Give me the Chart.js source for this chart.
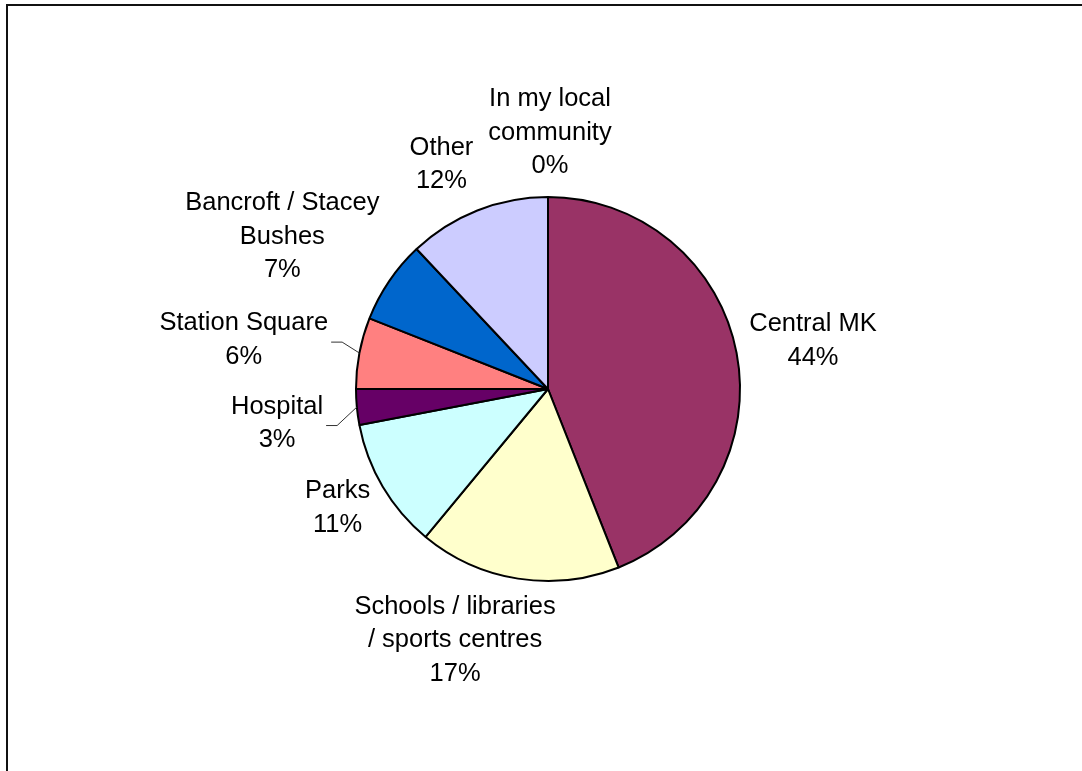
<!DOCTYPE html>
<html>
<head>
<meta charset="utf-8">
<title>Locations</title>
<script src="https://cdn.jsdelivr.net/npm/chart.js@4/dist/chart.umd.min.js"></script>
<style>
  html, body { margin: 0; padding: 0; background: #fff; }
  canvas { display: block; }
</style>
</head>
<body>
<canvas id="myChart" width="1082" height="771"></canvas>
<script>
// categories (multi-line labels as they wrap) and their shares
const categories = [
    'Central MK',
    ['Schools / libraries', '/ sports centres'],
    'Parks',
    'Hospital',
    'Station Square',
    ['Bancroft / Stacey', 'Bushes'],
    'Other',
    ['In my local', 'community']
];
const shares = [44, 17, 11, 3, 6, 7, 12, 0];
const sliceColors = ['#993366', '#FFFFCC', '#CCFFFF', '#660066', '#FF8080', '#0066CC', '#CCCCFF', '#000080'];

// label placement tweaks, px (index follows categories)
const labelNudge = [[0, -3], [-45, -2], [-5, -3], [-20, 12], [-19, -4], [-15, -8], [-19, -2], [2, 0]];
const leaderLines = [3, 4];

const LABEL_FONT = '25.5px "Liberation Sans", Arial, sans-serif';
const LINE_H = 33.5;
const LABEL_GAP = 14;

const frame = {
    id: 'frame',
    beforeDraw(chart) {
        const ctx = chart.ctx;
        ctx.save();
        ctx.fillStyle = '#fff';
        ctx.fillRect(0, 0, chart.width, chart.height);
        ctx.strokeStyle = '#111';
        ctx.lineWidth = 2;
        ctx.strokeRect(7, 5, chart.width + 20, chart.height + 20);
        ctx.restore();
    }
};

const pieLabels = {
    id: 'pieLabels',
    afterDatasetsDraw(chart) {
        const ctx = chart.ctx;
        const meta = chart.getDatasetMeta(0);
        const data = chart.data.datasets[0].data;
        const total = data.reduce((a, b) => a + b, 0);
        ctx.save();
        ctx.font = LABEL_FONT;
        ctx.fillStyle = '#000';
        ctx.textAlign = 'center';
        ctx.textBaseline = 'middle';
        meta.data.forEach((arc, i) => {
            const p = arc.getProps(['x', 'y', 'startAngle', 'endAngle', 'outerRadius'], true);
            const mid = (p.startAngle + p.endAngle) / 2;
            const ux = Math.cos(mid), uy = Math.sin(mid);
            const lines = [].concat(chart.data.labels[i], Math.round(data[i] / total * 100) + '%');
            const w = Math.max(...lines.map(l => ctx.measureText(l).width));
            const h = lines.length * LINE_H;
            const d = p.outerRadius + LABEL_GAP;
            const cx = p.x + ux * d + ux * w / 2 + labelNudge[i][0];
            const cy = p.y + uy * d + uy * h / 2 + labelNudge[i][1];
            lines.forEach((l, k) => {
                ctx.fillText(l, cx, cy + (k - (lines.length - 1) / 2) * LINE_H);
            });
            if (leaderLines.includes(i)) {
                const sx = cx + w / 2 + 3, sy = cy + 2;
                ctx.beginPath();
                ctx.moveTo(sx, sy);
                ctx.lineTo(sx + 11, sy);
                ctx.lineTo(p.x + ux * p.outerRadius, p.y + uy * p.outerRadius);
                ctx.strokeStyle = '#333';
                ctx.lineWidth = 1;
                ctx.stroke();
            }
        });
        ctx.restore();
    }
};

new Chart(document.getElementById('myChart'), {
    type: 'pie',
    data: {
        labels: categories,
        datasets: [{
            data: shares,
            backgroundColor: sliceColors,
            borderColor: '#000',
            borderWidth: 2,
            radius: 192
        }]
    },
    options: {
        responsive: false,
        animation: false,
        devicePixelRatio: 1,
        layout: { padding: { left: 14, right: 0, top: 7, bottom: 0 } },
        plugins: {
            legend: { display: false },
            tooltip: { enabled: false }
        }
    },
    plugins: [frame, pieLabels]
});
</script>
</body>
</html>
